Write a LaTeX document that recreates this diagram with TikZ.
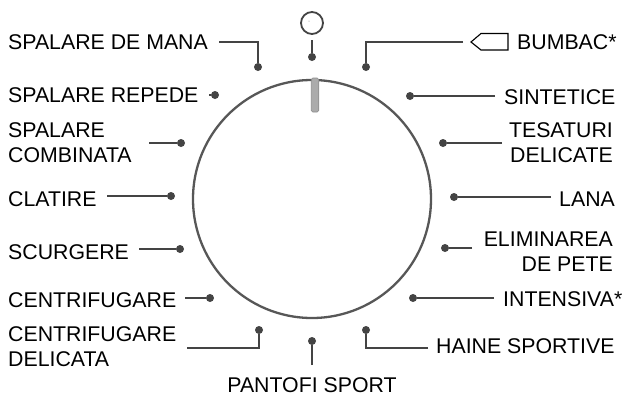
\documentclass[tikz,border=0pt]{standalone}
\usepackage{fontspec}
\setmainfont{Liberation Sans}
\definecolor{ln}{HTML}{444444}
\tikzset{
 x=1pt,y=-1pt,
 lbl/.style={inner sep=0pt,font=\fontsize{21.3}{25}\selectfont,text=black,anchor=base west},
 lbll/.style={inner sep=0pt,font=\fontsize{21.3}{25}\selectfont,text=black,align=left,anchor=west},
 lblr/.style={inner sep=0pt,font=\fontsize{21.3}{25}\selectfont,text=black,align=right,anchor=east},
 lblc/.style={inner sep=0pt,font=\fontsize{21.3}{25}\selectfont,text=black,anchor=base},
 dotn/.style={circle,fill=ln,draw=none,minimum size=8pt,inner sep=0pt},
 conn/.style={draw=ln,line width=2.3pt},
}
\begin{document}
\begin{tikzpicture}
\useasboundingbox (0,0) rectangle (622,394);
% dial
\node[circle,draw=ln!90!white,line width=2.3pt,minimum size=238pt,inner sep=0pt] (dial) at (312,199) {};
\node[rounded corners=1.5pt,fill=black!33,draw=black!45,line width=.7pt,minimum width=7.5pt,minimum height=34pt,inner sep=0pt] (handle) at (315,95) {};
% top icon
\node[circle,draw=ln,line width=1.8pt,minimum size=22pt,inner sep=0pt] (stop) at (312,23) {};
\fill[ln!70!white] (309,21) circle (.5);
\node[dotn] (dtop) at (312,57) {};
\coordinate (ctop) at (312,40);
\draw[conn] (ctop) -- (dtop);
% left column
\node[lbl] (a) at (8,49) {SPALARE DE MANA};
\node[dotn] (da) at (258,67) {};
\coordinate (ca) at (219,42);
\draw[conn] (ca) -| (da);
\node[lbl] (b) at (8,102) {SPALARE REPEDE};
\node[dotn] (db) at (215,95) {};
\coordinate (cb) at (209,95);
\draw[conn] (cb) -- (db);
\node[lbll] (c) at (8,142.5) {SPALARE\\COMBINATA};
\node[dotn] (dc) at (181,143) {};
\coordinate (cc) at (149,143);
\draw[conn] (cc) -- (dc);
\node[lbl] (d) at (8,206) {CLATIRE};
\node[dotn] (dd) at (171,196) {};
\coordinate (cd) at (107,196);
\draw[conn] (cd) -- (dd);
\node[lbl] (e) at (8,259) {SCURGERE};
\node[dotn] (de) at (180,249) {};
\coordinate (ce) at (139,249);
\draw[conn] (ce) -- (de);
\node[lbl] (f) at (8,307) {CENTRIFUGARE};
\node[dotn] (df) at (210,298) {};
\coordinate (cf) at (185,298);
\draw[conn] (cf) -- (df);
\node[lbll] (g) at (8,347) {CENTRIFUGARE\\DELICATA};
\node[dotn] (dg) at (259,330) {};
\coordinate (cg) at (187,348);
\draw[conn] (cg) -| (dg);
% bottom
\node[lblc] (h) at (312,392.5) {PANTOFI SPORT};
\node[dotn] (dh) at (312,341) {};
\coordinate (ch) at (312,365);
\draw[conn] (ch) -- (dh);
% right column
\node[lbl] (i) at (517,49) {BUMBAC*};
\draw[black,line width=1.1pt] (471,42) -- (481,33.5) -- (508,33.5) -- (508,50) -- (481,50) -- cycle;
\node[dotn] (di) at (366,67) {};
\coordinate (ci) at (463,42);
\draw[conn] (ci) -| (di);
\node[lbl] (j) at (504,104) {SINTETICE};
\node[dotn] (dj) at (410,96) {};
\coordinate (cj) at (495,96);
\draw[conn] (cj) -- (dj);
\node[lblr] (k) at (613,142.5) {TESATURI\\DELICATE};
\node[dotn] (dk) at (443,143) {};
\coordinate (ck) at (502,143);
\draw[conn] (ck) -- (dk);
\node[lbl] (l) at (559,206) {LANA};
\node[dotn] (dl) at (454,197) {};
\coordinate (cl) at (551,197);
\draw[conn] (cl) -- (dl);
\node[lblr] (m) at (613,251.5) {ELIMINAREA\\DE PETE};
\node[dotn] (dm) at (445,248) {};
\coordinate (cm) at (472,248);
\draw[conn] (cm) -- (dm);
\node[lbl] (n) at (503,306) {INTENSIVA*};
\node[dotn] (dn) at (413,298) {};
\coordinate (cn) at (494,298);
\draw[conn] (cn) -- (dn);
\node[lbl] (o) at (436,353) {HAINE SPORTIVE};
\node[dotn] (do) at (366,330) {};
\coordinate (co) at (428,348);
\draw[conn] (co) -| (do);
\end{tikzpicture}
\end{document}
